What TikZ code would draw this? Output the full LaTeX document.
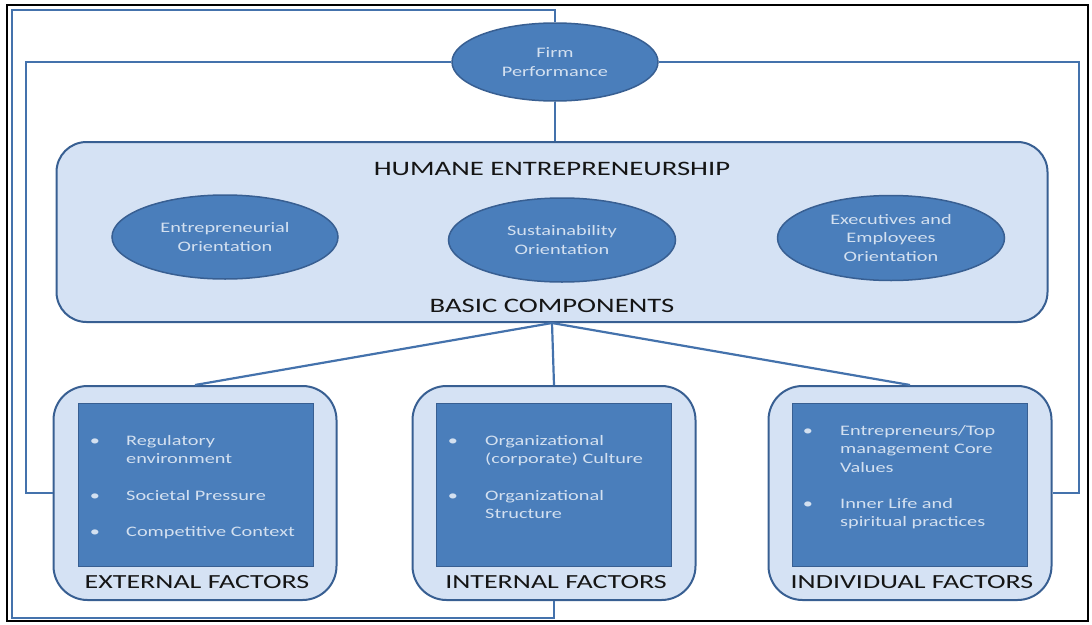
\documentclass[tikz,border=0pt]{standalone}
\usepackage{fontspec}
\setmainfont{Carlito}[FakeStretch=1.4]
\usetikzlibrary{shapes.geometric}
\definecolor{dkblue}{HTML}{385F92}
\definecolor{mdblue}{HTML}{4A7EBB}
\definecolor{ltblue}{HTML}{D5E2F4}
\definecolor{lnblue}{HTML}{4472AC}
\definecolor{txlight}{HTML}{D3E0F0}
\definecolor{txdark}{HTML}{151515}
\begin{document}
\begin{tikzpicture}[x=1pt,y=-1pt,
  oval/.style={ellipse, draw=dkblue, line width=1.5pt, fill=mdblue, text=txlight,
    align=center, inner sep=0pt, font=\fontsize{14.5}{18.5}\selectfont},
  panel/.style={rectangle, rounded corners=30pt, draw=dkblue, line width=2pt,
    fill=ltblue, inner sep=0pt},
  fbox/.style={rectangle, rounded corners=34pt, draw=dkblue, line width=2pt,
    fill=ltblue, minimum width=283pt, minimum height=214pt, inner sep=0pt},
  ibox/.style={rectangle, draw=dkblue, line width=1.5pt, fill=mdblue,
    minimum width=235pt, minimum height=163pt, inner sep=0pt},
  heading/.style={font=\fontsize{20.5}{24}\selectfont, text=txdark, anchor=base, inner sep=0pt},
  flabel/.style={font=\fontsize{20}{23}\selectfont, text=txdark, anchor=base, inner sep=0pt},
  itm/.style={font=\fontsize{14.5}{18}\selectfont, text=txlight, anchor=base west, inner sep=0pt},
  blt/.style={itm, anchor=base},
  conn/.style={draw=lnblue, line width=2.2pt},
  loopline/.style={draw=lnblue, line width=2.6pt},
]
\useasboundingbox (0,0) rectangle (1092,624);
\draw[black, line width=2pt] (7,5) rectangle (1088,621);

% corner points of the feedback loops
\coordinate (ctopR) at (555,10);
\coordinate (ctopL) at (12,10);
\coordinate (cbotL) at (12,618);
\coordinate (cextL) at (26,493);
\coordinate (cindR) at (1079,493);

% firm performance
\node[oval, minimum width=206pt, minimum height=78pt] (fp) at (555,62) {Firm\\Performance};

% main panel
\node[panel, minimum width=991pt, minimum height=180pt] (he) at (552,232) {};
\node[heading] (hetitle) at (552,175) {HUMANE ENTREPRENEURSHIP};
\node[heading] (hebasic) at (552,312) {BASIC COMPONENTS};
\node[oval, minimum width=226pt, minimum height=84pt] (eo) at (225,237) {Entrepreneurial\\Orientation};
\node[oval, minimum width=227pt, minimum height=84pt] (so) at (562,240) {Sustainability\\Orientation};
\node[oval, minimum width=227pt, minimum height=85pt] (xo) at (891,238) {Executives and\\Employees\\Orientation};

% factor boxes
\node[fbox] (ext) at (195,493) {};
\node[fbox] (int) at (554,493) {};
\node[fbox] (ind) at (910,493) {};
\node[ibox] (exti) at (196,485) {};
\node[ibox] (inti) at (554,485) {};
\node[ibox] (indi) at (910,485) {};
\node[flabel] (extl) at (197,588) {EXTERNAL FACTORS};
\node[flabel] (intl) at (556,588) {INTERNAL FACTORS};
\node[flabel] (indl) at (912,588) {INDIVIDUAL FACTORS};

% external items
\node[blt] (eb1) at (95,445) {•};
\node[itm] (e1) at (126,445) {Regulatory};
\node[itm] (e2) at (126,463) {environment};
\node[blt] (eb2) at (95,500) {•};
\node[itm] (e3) at (126,500) {Societal Pressure};
\node[blt] (eb3) at (95,536) {•};
\node[itm] (e4) at (126,536) {Competitive Context};

% internal items
\node[blt] (ib1) at (453,445) {•};
\node[itm] (i1) at (485,445) {Organizational};
\node[itm] (i2) at (485,463) {(corporate) Culture};
\node[blt] (ib2) at (453,500) {•};
\node[itm] (i3) at (485,500) {Organizational};
\node[itm] (i4) at (485,518) {Structure};

% individual items
\node[blt] (nb1) at (808,435) {•};
\node[itm] (n1) at (840,435) {Entrepreneurs/Top};
\node[itm] (n2) at (840,453) {management Core};
\node[itm] (n3) at (840,472) {Values};
\node[blt] (nb2) at (808,508) {•};
\node[itm] (n4) at (840,508) {Inner Life and};
\node[itm] (n5) at (840,526) {spiritual practices};

% connectors
\draw[conn] (fp.south) -- (he.north -| fp.south);
\draw[conn] (he.south) -- (ext.north);
\draw[conn] (he.south) -- (int.north);
\draw[conn] (he.south) -- (ind.north);
\draw[loopline] (fp.north) -- (ctopR) -- (ctopL) -- (cbotL) -| (int.south);
\draw[loopline] (fp.west) -| (cextL) -- (ext.west);
\draw[loopline] (fp.east) -| (cindR) -- (ind.east);
\end{tikzpicture}
\end{document}
